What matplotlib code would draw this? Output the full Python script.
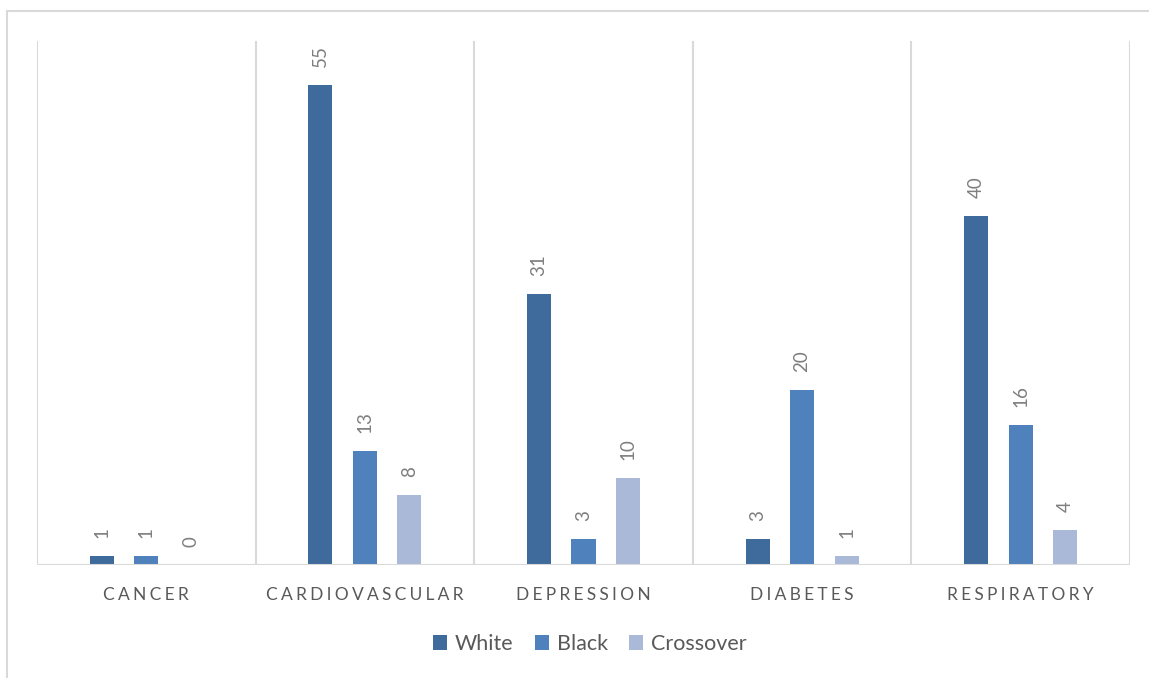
import matplotlib
matplotlib.use("Agg")
import matplotlib.pyplot as plt
from matplotlib.patches import Rectangle
import numpy as np

categories = ["CANCER", "CARDIOVASCULAR", "DEPRESSION", "DIABETES", "RESPIRATORY"]
series_names = ["White", "Black", "Crossover"]
white = [1, 55, 31, 3, 40]
black = [1, 13, 3, 20, 16]
crossover = [0, 8, 10, 1, 4]

colors = ["#3F6A9C", "#4F81BD", "#A9B9D7"]
grid_color = "#D9D9D9"
text_color = "#595959"
label_color = "#7F7F7F"

plt.rcParams["font.family"] = ["Lato", "DejaVu Sans"]

W, H = 1149, 678
fig = plt.figure(figsize=(W / 100, H / 100), dpi=100)

# outer chart frame (left and top edges visible)
fig.patches.append(Rectangle((7 / W, -0.1), 1.2, 1 - 11 / H + 0.1,
                             transform=fig.transFigure, fill=False,
                             edgecolor=grid_color, linewidth=1.5))

ax = fig.add_axes([37 / W, 1 - 565 / H, (1130 - 37) / W, (565 - 41) / H])
x = np.arange(len(categories))
offset = 0.2036
width = 0.11
for i, (vals, name) in enumerate(zip([white, black, crossover], series_names)):
    pos = x + (i - 1) * offset
    ax.bar(pos, vals, width=width, color=colors[i], label=name, zorder=3)
    for px, v in zip(pos, vals):
        ax.annotate(str(v), (px, v), xytext=(0, 13), textcoords="offset points",
                    rotation=90, ha="center", va="bottom",
                    fontsize=13.5, color=label_color)

ax.set_xlim(-0.5, len(categories) - 0.5)
ax.set_ylim(0, 60)
for b in np.arange(-0.5, len(categories), 1.0):
    ax.axvline(b, color=grid_color, linewidth=1.5, zorder=1)
ax.axhline(0, color=grid_color, linewidth=1.5, zorder=4)
for s in ax.spines.values():
    s.set_visible(False)
ax.set_yticks([])
ax.set_xticks(x)
ax.set_xticklabels(["\u2009\u200a".join(c) for c in categories],
                   fontsize=12.5, color=text_color)
ax.tick_params(axis="x", length=0, pad=16)

leg = fig.legend(loc="center", bbox_to_anchor=(590 / W, 1 - 644 / H), ncol=3,
                 frameon=False, fontsize=15.5, handlelength=0.65,
                 handleheight=0.65, handletextpad=0.35, columnspacing=1.0)
for t in leg.get_texts():
    t.set_color(text_color)

fig.savefig("out.png", dpi=100)
